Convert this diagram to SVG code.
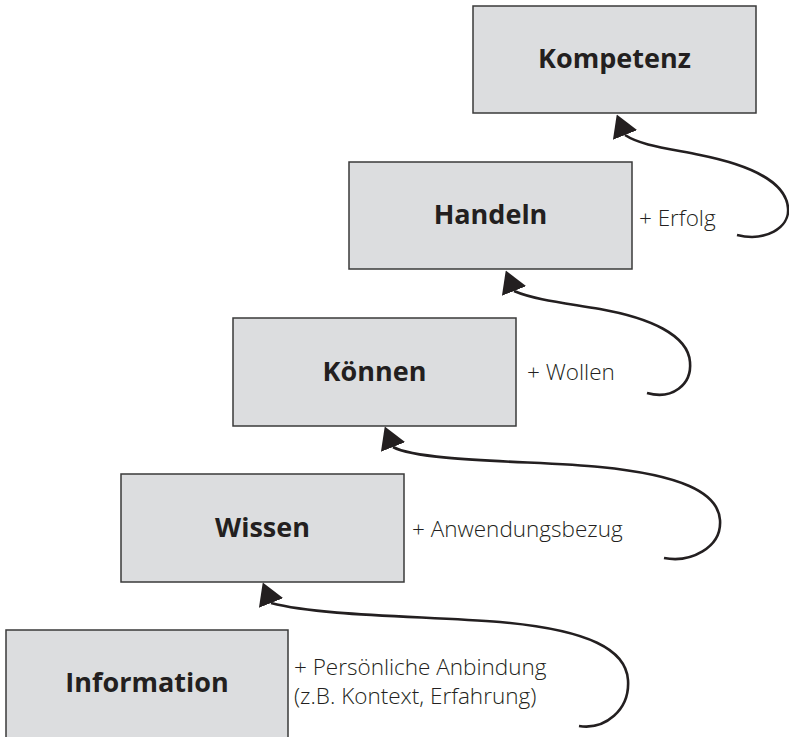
<svg xmlns="http://www.w3.org/2000/svg" width="789" height="737" viewBox="0 0 789 737">
<style>
.box{fill:#dcdddf;stroke:#3a3a3a;stroke-width:1.5}
.title{font-family:"Open Sans","Liberation Sans",sans-serif;font-weight:700;font-size:27px;fill:#231f20;text-anchor:middle}
.lbl{font-family:"Open Sans","Liberation Sans",sans-serif;font-weight:300;font-size:22.5px;fill:#231f20}
.con{fill:none;stroke:#231f20;stroke-width:2.6;marker-end:url(#ah)}
</style>
<defs>
<marker id="ah" markerUnits="userSpaceOnUse" markerWidth="22" markerHeight="26" viewBox="0 0 22 26" refX="0" refY="13" orient="-112">
<path d="M0,0 L22,13 L0,26 Z" fill="#231f20"/>
</marker>
</defs>
<g id="kompetenz"><rect class="box" x="473" y="6" width="283" height="107"/><text class="title" x="614.5" y="68">Kompetenz</text></g>
<g id="handeln"><rect class="box" x="349" y="162" width="283" height="107"/><text class="title" x="490.5" y="224">Handeln</text></g>
<g id="koennen"><rect class="box" x="233" y="318" width="283" height="108"/><text class="title" x="374.5" y="381">Können</text></g>
<g id="wissen"><rect class="box" x="121" y="474" width="283" height="108"/><text class="title" x="262.5" y="537">Wissen</text></g>
<g id="information"><rect class="box" x="6" y="630" width="282" height="108"/><text class="title" x="147" y="692">Information</text></g>
<g id="labels">
<text class="lbl" x="639" y="226">+ Erfolg</text>
<text class="lbl" x="527" y="380">+ Wollen</text>
<text class="lbl" x="412" y="537">+ Anwendungsbezug</text>
<text class="lbl" x="294" y="675">+ Persönliche Anbindung</text>
<text class="lbl" x="294" y="704">(z.B. Kontext, Erfahrung)</text>
</g>
<g id="connectors">
<path class="con" d="M737,235 C765,242 790,228 788,208 C786,182 750,165 700,155 C665,148 640,145 625,135"/>
<path class="con" d="M647,393 C672,400 692,385 690,362 C688,335 650,318 600,309 C565,303 535,300 514,291"/>
<path class="con" d="M664,558 C690,563 722,548 720,520 C718,492 680,475 600,467 C540,461 420,462 393,447"/>
<path class="con" d="M579,726 C605,730 630,710 628,680 C626,650 590,630 500,622 C420,616 320,616 271,603"/>
</g>
</svg>
